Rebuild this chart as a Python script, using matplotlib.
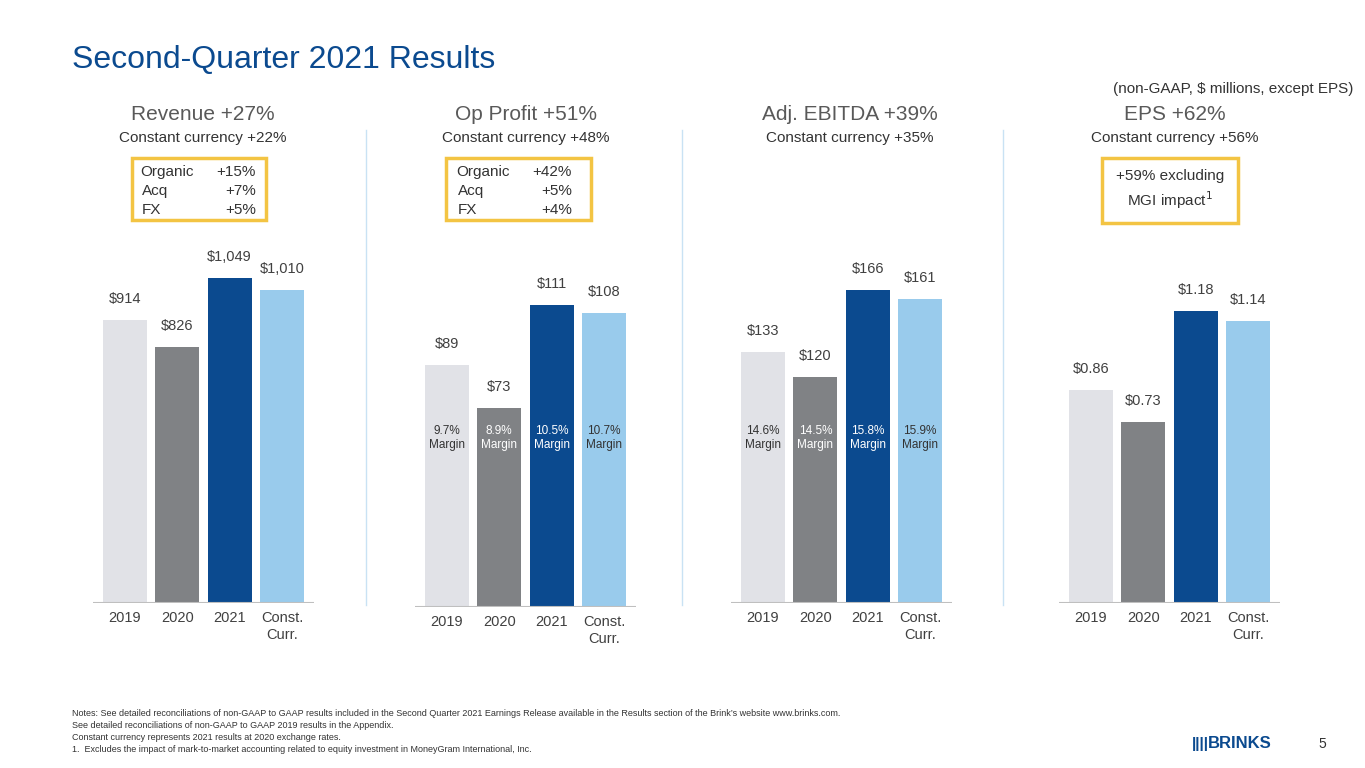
import matplotlib.pyplot as plt
from matplotlib.patches import Rectangle

W, H = 1365, 768
LIGHT, GRAY, DARK, SKY = '#E1E2E7', '#808285', '#0B4A8F', '#99CBEC'
GOLD = '#F3C443'
colors = [LIGHT, GRAY, DARK, SKY]
txt_on = ['#333333', 'white', 'white', '#333333']

years = ['2019', '2020', '2021', 'Const.\nCurr.']
revenue = [914, 826, 1049, 1010]
op_profit = [89, 73, 111, 108]
ebitda = [133, 120, 166, 161]
eps = [0.86, 0.73, 1.18, 1.14]
op_margin = ['9.7%', '8.9%', '10.5%', '10.7%']
ebitda_margin = ['14.6%', '14.5%', '15.8%', '15.9%']

plt.rcParams['font.family'] = ['Liberation Sans', 'DejaVu Sans']
fig = plt.figure(figsize=(W / 100, H / 100), dpi=100)


def ftext(x, y, s, **kw):
    kw.setdefault('ha', 'center')
    kw.setdefault('va', 'center')
    return fig.text(x / W, 1 - y / H, s, **kw)


def panel(c0, base, ppu, vals, fmt, margins=None):
    sp = 52.3
    left = c0 - 0.62 * sp
    width = 4.24 * sp
    top = 340
    ax = fig.add_axes([left / W, 1 - base / H, width / W, top / H])
    ax.set_xlim(-0.62, 3.62)
    ax.set_ylim(0, top / ppu)
    ax.bar(range(4), vals, width=0.84, color=colors)
    for i, v in enumerate(vals):
        ax.text(i, v + 14 / ppu, fmt(v), ha='center', va='bottom', fontsize=10.5, color='#404040')
    ax.axhline(0, color='#bfbfbf', lw=1.5)
    for s in ax.spines.values():
        s.set_visible(False)
    ax.set_yticks([])
    ax.set_xticks(range(4))
    ax.set_xticklabels(years, fontsize=10.5, color='#404040', va='top')
    ax.tick_params(length=0, pad=6)
    if margins:
        for i, m in enumerate(margins):
            ftext(c0 + i * sp, 438, m + '\nMargin', fontsize=8.5, color=txt_on[i], linespacing=1.3)
    return ax


panel(125, 603, 325 / 1049, revenue, lambda v: f'${v:,}')
panel(447, 607, 302 / 111, op_profit, lambda v: f'${v}', op_margin)
panel(763, 603, 313 / 166, ebitda, lambda v: f'${v}', ebitda_margin)
panel(1091, 603, 292 / 1.18, eps, lambda v: f'${v:.2f}')

ftext(72, 60, 'Second-Quarter 2021 Results', ha='left', fontsize=23, color=DARK)
ftext(1353, 89, '(non-GAAP, $ millions, except EPS)', ha='right', fontsize=11, color='#333333')

heads = [(203, 'Revenue +27%', 'Constant currency +22%'),
         (526, 'Op Profit +51%', 'Constant currency +48%'),
         (850, 'Adj. EBITDA +39%', 'Constant currency +35%'),
         (1175, 'EPS +62%', 'Constant currency +56%')]
for x, h, s in heads:
    ftext(x, 114, h, fontsize=15, color='#595959')
    ftext(x, 138, s, fontsize=11, color='#333333')

for x in [366, 682, 1003]:
    fig.add_artist(plt.Line2D([x / W] * 2, [1 - 130 / H, 1 - 605 / H], color='#C9E2F4', lw=1))

for x0, x1, y0, y1 in [(132, 266, 158, 220), (446, 591, 158, 220), (1102, 1238, 158, 223)]:
    fig.add_artist(Rectangle((x0 / W, 1 - y1 / H), (x1 - x0) / W, (y1 - y0) / H,
                             fill=False, ec=GOLD, lw=2.5))

for bx, rows in [(140, [('Organic', '+15%'), ('Acq', '+7%'), ('FX', '+5%')]),
                 (456, [('Organic', '+42%'), ('Acq', '+5%'), ('FX', '+4%')])]:
    for j, (a, b) in enumerate(rows):
        y = 172 + j * 19
        ftext(bx + (0 if j == 0 else 2), y, a, ha='left', fontsize=11, color='#333333')
        ftext(bx + 116, y, b, ha='right', fontsize=11, color='#333333')
ftext(1170, 190, '+59% excluding\nMGI impact$^1$', fontsize=11, color='#333333', linespacing=1.4)

notes = ['Notes: See detailed reconciliations of non-GAAP to GAAP results included in the Second Quarter 2021 Earnings Release available in the Results section of the Brink\u2019s website www.brinks.com.',
         'See detailed reconciliations of non-GAAP to GAAP 2019 results in the Appendix.',
         'Constant currency represents 2021 results at 2020 exchange rates.',
         '1.  Excludes the impact of mark-to-market accounting related to equity investment in MoneyGram International, Inc.']
for j, n in enumerate(notes):
    ftext(72, 713 + j * 12, n, ha='left', fontsize=6.5, color='#333333')

ftext(1192, 744, '||||', ha='left', fontsize=11, color=DARK, fontweight='bold')
ftext(1208, 744, 'BRINKS', ha='left', fontsize=12, color=DARK, fontweight='bold')
ftext(1322, 744, '5', fontsize=10, color='#333333')

fig.savefig('out.png', dpi=100)
